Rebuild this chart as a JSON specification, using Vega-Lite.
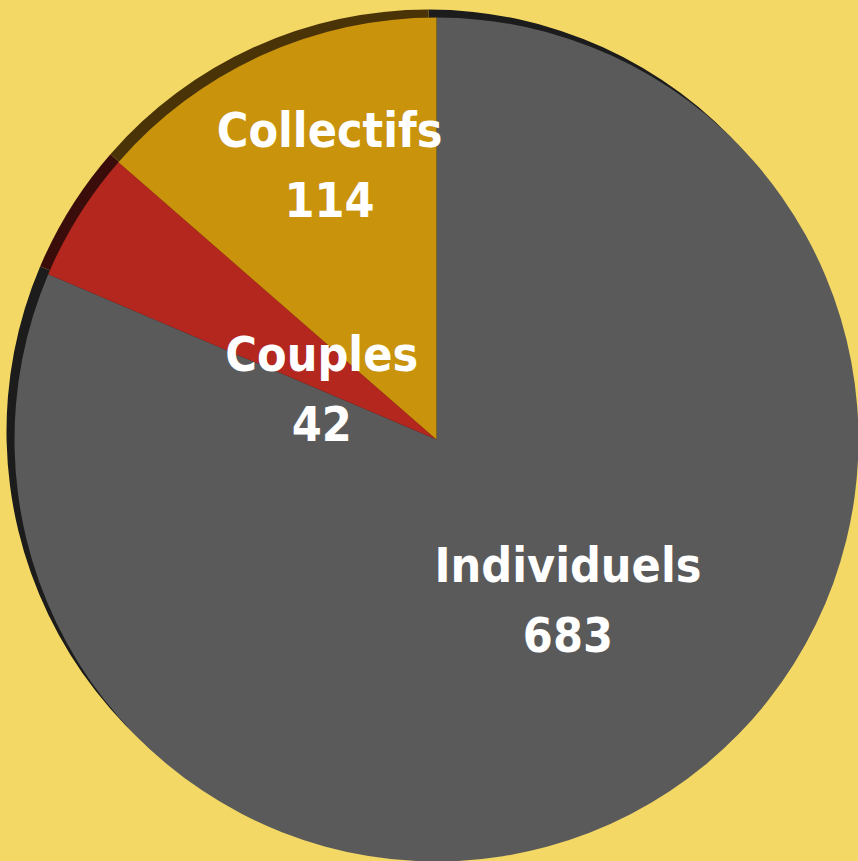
{
  "$schema": "https://vega.github.io/schema/vega-lite/v6.json",
  "width": 858,
  "height": 861,
  "autosize": {"type": "fit", "contains": "padding"},
  "padding": 0,
  "background": "#f3d865",
  "view": {"stroke": null},
  "data": {
    "values": [
      {"category": "Individuels", "count": 683, "order": 1},
      {"category": "Couples", "count": 42, "order": 2},
      {"category": "Collectifs", "count": 114, "order": 3}
    ]
  },
  "transform": [
    {"stack": "count", "groupby": [], "sort": [{"field": "order", "order": "ascending"}], "as": ["t0", "t1"]},
    {"calculate": "(datum.t0 + datum.t1) / 2", "as": "mid"},
    {"calculate": "datum.category + '\\n' + datum.count", "as": "label"}
  ],
  "layer": [
    {
      "mark": {"type": "arc", "outerRadius": 422, "xOffset": 0, "yOffset": 2},
      "encoding": {
        "theta": {"field": "t0", "type": "quantitative", "scale": {"domain": [0, 839]}},
        "theta2": {"field": "t1"},
        "color": {
          "field": "category",
          "type": "nominal",
          "scale": {"domain": ["Individuels", "Couples", "Collectifs"], "range": ["#1c1c1c", "#3a0d0a", "#4a3407"]},
          "legend": null
        }
      }
    },
    {
      "mark": {"type": "arc", "outerRadius": 422, "xOffset": 8, "yOffset": 10},
      "encoding": {
        "theta": {"field": "t0", "type": "quantitative", "scale": {"domain": [0, 839]}},
        "theta2": {"field": "t1"},
        "color": {
          "field": "category",
          "type": "nominal",
          "scale": {"domain": ["Individuels", "Couples", "Collectifs"], "range": ["#5a5a5a", "#b3271f", "#c9930c"]},
          "legend": null
        }
      }
    },
    {
      "transform": [{"filter": "datum.category == 'Collectifs'"}],
      "mark": {"type": "text", "radius": 280, "dx": 17, "dy": -42, "font": "'Liberation Sans Narrow', 'DejaVu Sans Condensed', 'Liberation Sans', sans-serif", "fontWeight": "bold", "fontSize": 48, "lineBreak": "\n", "lineHeight": 70, "color": "white", "align": "center", "baseline": "middle"},
      "encoding": {
        "theta": {"field": "mid", "type": "quantitative", "scale": {"domain": [0, 839]}},
        "text": {"field": "label"}
      }
    },
    {
      "transform": [{"filter": "datum.category == 'Couples'"}],
      "mark": {"type": "text", "radius": 113, "dx": -11, "dy": -12, "font": "'Liberation Sans Narrow', 'DejaVu Sans Condensed', 'Liberation Sans', sans-serif", "fontWeight": "bold", "fontSize": 48, "lineBreak": "\n", "lineHeight": 70, "color": "white", "align": "center", "baseline": "middle"},
      "encoding": {
        "theta": {"field": "mid", "type": "quantitative", "scale": {"domain": [0, 839]}},
        "text": {"field": "label"}
      }
    },
    {
      "transform": [{"filter": "datum.category == 'Individuels'"}],
      "mark": {"type": "text", "radius": 222, "dx": 17, "dy": -47, "font": "'Liberation Sans Narrow', 'DejaVu Sans Condensed', 'Liberation Sans', sans-serif", "fontWeight": "bold", "fontSize": 48, "lineBreak": "\n", "lineHeight": 70, "color": "white", "align": "center", "baseline": "middle"},
      "encoding": {
        "theta": {"field": "mid", "type": "quantitative", "scale": {"domain": [0, 839]}},
        "text": {"field": "label"}
      }
    }
  ],
  "resolve": {"scale": {"color": "independent"}}
}
